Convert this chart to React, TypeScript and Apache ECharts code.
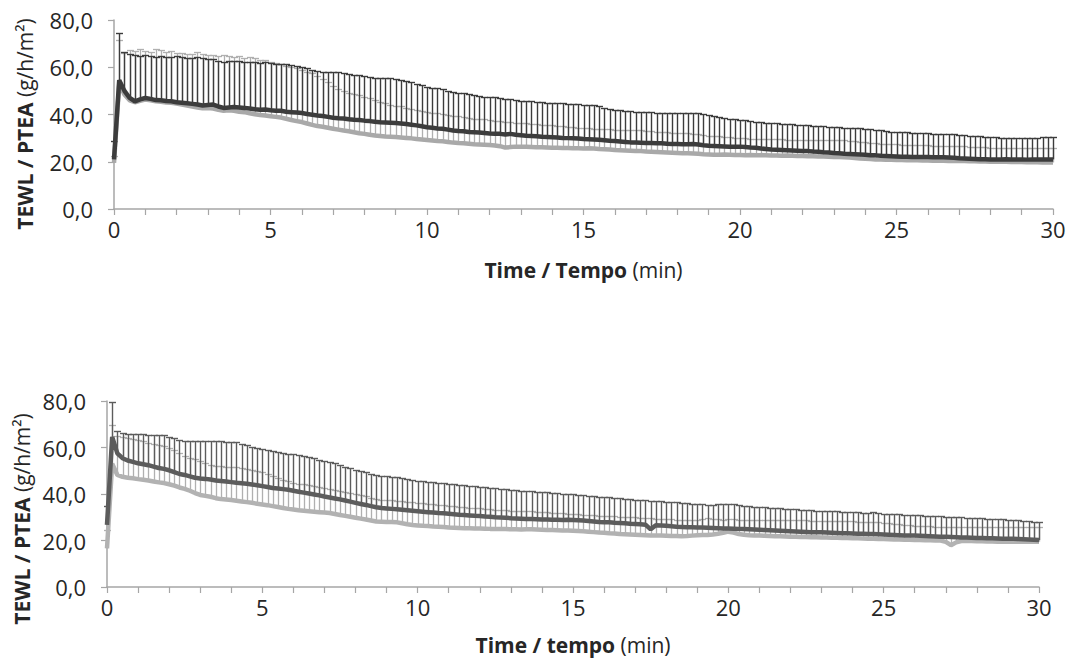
import React, { useEffect, useRef } from "react";
import * as echarts from "echarts";

// sample times: one reading every 10 s from 0 to 30 min
const minutes: number[] = Array.from({ length: 181 }, (_, i) => i / 6);

const xTicks = [0, 5, 10, 15, 20, 25, 30];
const yTicks = [0, 20, 40, 60, 80];

// ---------- Top panel ----------
const topDark = [
  21.0, 54.5, 50.0, 47.0, 45.6, 46.4, 47.0, 46.6, 46.1, 46.0, 45.7, 45.6,
  45.2, 45.0, 44.8, 44.5, 44.2, 43.8, 44.0, 44.2, 43.4, 42.8, 43.0, 43.2,
  43.0, 42.8, 42.5, 42.2, 42.0, 42.1, 41.8, 41.6, 41.6, 41.2, 41.0, 40.8,
  40.6, 40.2, 39.9, 39.6, 39.4, 39.0, 38.6, 38.4, 38.3, 38.0, 37.8, 37.7,
  37.4, 37.2, 36.9, 36.7, 36.6, 36.5, 36.4, 36.2, 36.0, 35.7, 35.4, 35.0,
  34.6, 34.4, 34.1, 34.0, 33.6, 33.2, 33.0, 32.9, 32.6, 32.5, 32.4, 32.2,
  32.0, 31.9, 31.8, 31.5, 31.8, 31.4, 31.2, 31.0, 30.9, 30.8, 30.6, 30.5,
  30.4, 30.3, 30.1, 30.0, 29.9, 29.8, 29.6, 29.5, 29.4, 29.3, 29.1, 28.9,
  28.8, 28.6, 28.4, 28.2, 28.1, 28.0, 27.9, 27.9, 27.8, 27.8, 27.6, 27.5,
  27.5, 27.4, 27.4, 27.5, 27.3, 27.0, 26.8, 26.7, 26.6, 26.5, 26.4, 26.4,
  26.4, 26.2, 26.0, 25.9, 25.6, 25.4, 25.2, 25.1, 25.0, 24.9, 24.8, 24.7,
  24.6, 24.5, 24.3, 24.2, 24.0, 23.9, 23.7, 23.6, 23.4, 23.3, 23.2, 23.1,
  23.0, 22.8, 22.7, 22.5, 22.4, 22.3, 22.2, 22.1, 22.1, 22.0, 22.0, 22.0,
  22.0, 21.9, 21.9, 21.9, 21.8, 21.7, 21.5, 21.4, 21.3, 21.2, 21.1, 21.1,
  21.0, 21.0, 21.0, 21.1, 21.0, 21.0, 21.0, 20.9, 21.0, 21.0, 21.0, 21.0,
  21.0,
];
const topDarkUpper = [
  28.9, 74.3, 66.6, 65.5, 65.0, 64.8, 65.2, 64.6, 64.4, 64.9, 64.5, 64.2,
  64.6, 64.4, 64.0, 63.8, 64.2, 64.0, 63.6, 63.4, 62.6, 62.4, 62.8, 62.6,
  62.5, 62.2, 62.4, 62.3, 62.0, 62.2, 61.8, 61.5, 61.4, 61.2, 61.0, 60.4,
  60.0, 59.6, 59.0, 58.4, 58.1, 58.2, 58.0, 57.8, 57.4, 57.0, 56.8, 56.7,
  56.2, 55.8, 55.5, 55.3, 55.4, 55.3, 55.0, 54.8, 54.2, 53.6, 53.0, 52.4,
  51.8, 51.4, 51.1, 50.6, 50.0, 49.6, 49.3, 49.0, 48.6, 48.2, 47.8, 47.6,
  47.5, 47.2, 46.8, 46.6, 46.4, 46.1, 45.8, 45.9, 45.6, 45.4, 45.2, 45.0,
  45.0, 44.8, 44.9, 44.6, 44.4, 44.3, 44.2, 44.0, 44.1, 43.6, 42.8, 42.2,
  42.0, 41.8, 41.6, 41.4, 41.2, 41.0, 41.1, 40.9, 40.8, 40.7, 40.8, 40.6,
  40.6, 40.5, 40.5, 40.6, 40.5, 40.2, 39.8, 39.2, 38.8, 38.6, 38.3, 38.0,
  37.7, 37.6, 37.3, 37.0, 36.8, 36.6, 36.4, 36.3, 36.1, 36.0, 35.8, 35.7,
  35.6, 35.4, 35.3, 35.1, 35.0, 34.8, 34.6, 34.5, 34.4, 34.3, 34.2, 34.1,
  33.9, 33.7, 33.5, 33.3, 33.0, 32.8, 32.6, 32.5, 32.4, 32.3, 32.2, 32.1,
  32.0, 31.9, 31.8, 31.7, 31.6, 31.6, 31.5, 31.3, 31.1, 30.9, 30.8, 30.6,
  30.5, 30.4, 30.2, 30.2, 30.1, 30.2, 30.2, 30.1, 30.2, 30.2, 30.3, 30.3,
  30.3,
];
const topLight = [
  19.5, 53.0, 48.5, 46.0, 45.2, 45.8, 46.3, 46.0, 45.6, 45.4, 45.1, 45.0,
  44.6, 44.2, 43.8, 43.4, 43.0, 42.6, 42.7, 42.5, 42.0, 41.6, 41.8, 41.6,
  41.2, 41.0, 40.5, 40.1, 39.8, 39.6, 39.3, 39.0, 38.7, 38.2, 37.7, 37.2,
  36.8, 36.2, 35.6, 35.1, 34.8, 34.4, 34.0, 33.6, 33.2, 32.9, 32.5, 32.1,
  31.8, 31.4, 31.1, 30.9, 30.7, 30.6, 30.5, 30.3, 30.1, 29.9, 29.6, 29.4,
  29.2, 29.0, 28.8, 28.7, 28.4, 28.1, 27.9, 27.8, 27.6, 27.4, 27.3, 27.2,
  27.1, 26.9, 26.6, 26.0, 26.2, 26.4, 26.4, 26.3, 26.2, 26.1, 26.1, 26.0,
  25.9, 25.9, 25.8, 25.8, 25.7, 25.7, 25.6, 25.7, 25.6, 25.4, 25.3, 25.2,
  25.0, 24.9, 24.8, 24.7, 24.6, 24.5, 24.3, 24.2, 24.1, 24.0, 23.9, 23.8,
  23.7, 23.6, 23.6, 23.5, 23.4, 23.2, 23.1, 23.0, 23.0, 23.1, 23.0, 22.9,
  22.9, 22.8, 22.9, 22.8, 22.7, 22.7, 22.6, 22.6, 22.5, 22.6, 22.5, 22.4,
  22.4, 22.3, 22.3, 22.2, 22.2, 22.1, 22.0, 22.0, 21.9, 21.8, 21.6, 21.4,
  21.3, 21.2, 21.0, 20.9, 20.8, 20.8, 20.7, 20.7, 20.6, 20.6, 20.6, 20.5,
  20.5, 20.4, 20.4, 20.4, 20.3, 20.3, 20.4, 20.3, 20.2, 20.2, 20.1, 20.1,
  20.0, 20.0, 20.1, 20.0, 19.9, 19.9, 19.9, 19.8, 19.8, 19.8, 19.7, 19.7,
  19.7,
];
const topLightUpper = [
  22.5, 71.5, 66.0, 67.2, 66.8, 67.6, 67.0, 66.4, 67.8, 67.2, 66.6, 66.8,
  66.2, 66.0, 65.6, 65.8, 66.4, 65.6, 65.2, 65.0, 64.8, 65.2, 64.6, 64.4,
  64.6, 64.0, 64.2, 63.8, 63.2, 63.0, 62.4, 62.0, 61.2, 60.6, 60.0, 59.6,
  59.0, 58.2, 57.4, 56.4, 55.0, 53.6, 52.2, 50.6, 50.0, 49.2, 48.8, 48.4,
  47.6, 46.8, 46.0, 45.4, 44.8, 44.0, 43.7, 43.4, 42.8, 42.4, 41.8, 41.3,
  41.0, 40.8, 40.5, 40.1, 39.8, 39.5, 39.2, 38.9, 38.6, 38.3, 38.0, 37.9,
  37.7, 37.4, 37.2, 36.9, 36.7, 36.5, 36.4, 36.2, 36.0, 35.8, 35.7, 35.6,
  35.4, 35.2, 35.0, 34.8, 34.6, 34.4, 34.2, 34.1, 34.0, 33.9, 33.8, 33.7,
  33.6, 33.5, 33.5, 33.4, 33.4, 33.3, 33.1, 33.0, 32.8, 32.6, 32.4, 32.2,
  32.1, 32.0, 32.0, 31.8, 31.6, 31.3, 31.1, 30.9, 30.7, 30.5, 30.3, 30.1,
  30.0, 29.9, 29.8, 29.7, 29.7, 29.6, 29.6, 29.5, 29.5, 29.4, 29.4, 29.4,
  29.3, 29.3, 29.3, 29.2, 29.2, 29.2, 29.2, 29.1, 29.0, 28.8, 28.6, 28.4,
  28.2, 28.0, 27.9, 27.7, 27.6, 27.5, 27.4, 27.3, 27.2, 27.1, 27.0, 26.9,
  26.9, 26.8, 26.8, 26.7, 26.7, 26.6, 26.6, 26.5, 26.4, 26.3, 26.2, 26.1,
  26.0, 26.0, 25.9, 25.9, 25.8, 25.8, 25.8, 25.7, 25.7, 25.7, 25.7, 25.7,
  25.7,
];

// ---------- Bottom panel ----------
const botDark = [
  26.7, 64.6, 57.5, 55.4, 54.4, 53.8, 53.2, 52.8, 52.4, 51.8, 51.2, 50.8,
  50.2, 49.4, 48.6, 48.2, 47.6, 47.0, 46.7, 46.5, 46.2, 45.8, 45.6, 45.4,
  45.1, 44.8, 44.6, 44.4, 44.1, 43.8, 43.4, 43.0, 42.6, 42.4, 42.1, 41.8,
  41.4, 41.0, 40.6, 40.2, 39.8, 39.4, 38.9, 38.5, 38.1, 37.7, 37.2, 36.7,
  36.2, 35.7, 35.3, 34.8, 34.3, 34.0, 33.8, 33.6, 33.4, 33.2, 33.0, 32.8,
  32.6, 32.4, 32.2, 32.0, 31.8, 31.7, 31.5, 31.3, 31.1, 31.0, 30.8, 30.6,
  30.5, 30.3, 30.2, 30.0, 29.9, 29.8, 29.6, 29.5, 29.4, 29.3, 29.2, 29.1,
  29.0, 29.0, 28.9, 28.9, 28.8, 28.9, 28.8, 28.7, 28.6, 28.4, 28.2, 28.0,
  27.9, 27.8, 27.6, 27.5, 27.4, 27.2, 27.1, 27.0, 26.8, 24.8, 26.6, 26.5,
  26.3, 26.1, 25.9, 25.8, 25.7, 25.7, 25.6, 25.6, 25.5, 25.4, 25.3, 25.2,
  25.2, 25.1, 25.0, 24.9, 24.8, 24.7, 24.6, 24.5, 24.4, 24.3, 24.2, 24.1,
  24.0, 23.9, 23.8, 23.7, 23.6, 23.6, 23.5, 23.4, 23.3, 23.2, 23.1, 23.1,
  23.0, 22.9, 22.9, 22.8, 22.8, 22.7, 22.6, 22.5, 22.4, 22.3, 22.2, 22.2,
  22.1, 22.0, 21.9, 21.8, 21.7, 21.6, 21.6, 21.5, 21.4, 21.3, 21.3, 21.2,
  21.1, 21.1, 21.0, 21.0, 20.9, 20.8, 20.8, 20.7, 20.6, 20.5, 20.4, 20.3,
  20.2,
];
const botDarkUpper = [
  34.8, 79.7, 67.0, 66.2, 66.0, 65.8, 65.6, 65.6, 65.4, 65.4, 65.5, 65.2,
  64.6, 64.0, 63.4, 63.0, 62.8, 62.8, 62.6, 62.8, 63.0, 62.7, 62.6, 62.5,
  62.4, 62.2, 61.6, 61.0, 60.4, 59.8, 59.3, 58.9, 58.6, 58.2, 57.8, 57.4,
  57.0, 56.6, 56.2, 55.8, 55.3, 54.8, 54.2, 53.8, 53.4, 52.6, 51.8, 51.0,
  50.4, 49.8, 49.3, 48.6, 48.0, 47.8, 47.6, 47.4, 47.2, 46.9, 46.5, 46.1,
  45.8, 45.6, 45.3, 45.0, 44.8, 44.6, 44.4, 44.2, 44.0, 43.7, 43.5, 43.3,
  43.1, 42.9, 42.7, 42.5, 42.3, 42.1, 41.9, 41.7, 41.5, 41.3, 41.2, 41.0,
  40.9, 40.7, 40.6, 40.4, 40.2, 40.1, 39.9, 39.7, 39.5, 39.3, 39.1, 38.9,
  38.7, 38.5, 38.3, 38.1, 37.9, 37.7, 37.6, 37.4, 37.3, 37.1, 37.0, 36.9,
  36.7, 36.6, 36.4, 36.3, 36.1, 35.9, 35.7, 35.5, 35.4, 35.3, 35.5, 35.8,
  35.8, 35.6, 35.2, 35.0, 34.8, 34.6, 34.4, 34.2, 34.0, 33.9, 33.8, 33.6,
  33.5, 33.4, 33.3, 33.2, 33.0, 32.9, 32.8, 32.7, 32.6, 32.5, 32.4, 32.3,
  32.2, 32.1, 32.0, 31.9, 32.3, 31.7, 31.6, 31.5, 31.4, 31.2, 31.1, 31.0,
  30.9, 30.8, 30.7, 30.6, 30.5, 30.4, 30.2, 30.1, 30.0, 29.9, 29.8, 29.7,
  29.6, 29.5, 29.4, 29.3, 29.2, 29.1, 29.0, 28.8, 28.7, 28.5, 28.3, 28.1,
  28.1,
];
const botLight = [
  16.6, 53.0, 48.2, 47.4, 47.0, 46.8, 46.4, 46.1, 45.8, 45.4, 45.0, 44.7,
  44.2, 43.6, 42.8, 42.2, 41.4, 40.4, 39.6, 39.2, 38.8, 38.2, 37.8, 37.6,
  37.4, 37.1, 36.8, 36.5, 36.2, 35.8, 35.5, 35.2, 34.8, 34.4, 34.0, 33.6,
  33.3, 33.0, 32.8, 32.6, 32.4, 32.2, 32.0, 31.8, 31.4, 31.0, 30.6, 30.2,
  29.8, 29.4, 29.0, 28.6, 28.2, 28.1, 28.0, 28.0, 27.8, 27.4, 27.0, 26.7,
  26.5, 26.3, 26.2, 26.0, 25.9, 25.8, 25.6, 25.5, 25.4, 25.3, 25.3, 25.2,
  25.2, 25.1, 25.0, 25.0, 24.9, 24.9, 24.8, 24.8, 24.7, 24.8, 24.8, 24.7,
  24.6, 24.5, 24.5, 24.4, 24.3, 24.3, 24.2, 24.1, 24.0, 23.8, 23.6, 23.4,
  23.3, 23.1, 23.0, 22.8, 22.7, 22.6, 22.5, 22.4, 22.3, 22.2, 22.2, 22.1,
  22.0, 21.9, 21.9, 21.8, 21.9, 22.1, 22.3, 22.4, 22.4, 22.6, 22.9, 23.3,
  23.8, 23.4, 22.8, 22.5, 22.3, 22.2, 22.1, 22.0, 21.9, 21.8, 21.8, 21.7,
  21.6, 21.6, 21.5, 21.5, 21.4, 21.4, 21.3, 21.3, 21.2, 21.2, 21.1, 21.1,
  21.0, 21.0, 20.9, 20.8, 20.7, 20.6, 20.6, 20.5, 20.4, 20.4, 20.3, 20.3,
  20.2, 20.2, 20.1, 20.1, 20.0, 20.0, 19.4, 18.0, 19.2, 19.8, 19.9, 19.8,
  19.7, 19.7, 19.6, 19.6, 19.5, 19.5, 19.5, 19.5, 19.5, 19.5, 19.5, 19.5,
  19.5,
];
const botLightUpper = [
  24.5, 69.7, 65.0, 64.6, 64.2, 63.8, 63.4, 62.8, 62.0, 61.4, 61.0, 60.6,
  60.0, 59.0, 57.8, 56.4, 55.4, 55.0, 54.2, 53.2, 52.4, 52.0, 51.9, 51.8,
  51.7, 51.4, 51.0, 50.6, 50.2, 49.8, 49.4, 48.6, 47.8, 47.0, 46.2, 45.4,
  44.8, 44.4, 44.2, 43.8, 43.4, 43.0, 42.6, 42.2, 41.8, 41.3, 40.8, 40.3,
  40.0, 39.7, 39.0, 38.4, 37.8, 37.5, 37.4, 37.4, 37.2, 37.0, 36.7, 36.4,
  36.2, 36.0, 35.8, 35.6, 35.3, 35.1, 34.9, 34.7, 34.5, 34.3, 34.1, 34.0,
  33.8, 33.6, 33.5, 33.3, 33.2, 33.1, 32.9, 32.8, 32.7, 32.6, 32.5, 32.4,
  32.3, 32.1, 32.0, 31.8, 31.7, 31.5, 31.3, 31.2, 31.0, 30.9, 30.8, 30.7,
  30.6, 30.5, 30.4, 30.3, 30.1, 30.0, 29.9, 29.8, 29.7, 29.6, 29.4, 29.3,
  29.2, 29.1, 29.0, 28.9, 28.8, 28.8, 28.9, 29.2, 29.5, 29.3, 29.1, 29.0,
  29.4, 29.2, 29.0, 28.9, 28.9, 28.8, 28.9, 28.8, 28.8, 28.8, 28.9, 28.8,
  28.8, 28.8, 28.7, 28.7, 28.6, 28.5, 28.5, 28.4, 28.4, 28.3, 28.3, 28.2,
  28.2, 28.1, 28.1, 28.0, 27.9, 27.8, 27.6, 27.4, 27.2, 27.0, 26.8, 26.6,
  26.4, 26.3, 26.2, 26.1, 26.0, 26.0, 25.9, 25.9, 25.9, 25.9, 25.9, 25.9,
  25.9, 25.9, 25.9, 25.9, 25.9, 25.9, 25.8, 25.8, 25.8, 25.8, 25.7, 25.7,
  25.7,
];

const FONT = "'Open Sans', 'Noto Sans', sans-serif";
const AXIS_GRAY = "#a6a6a6";
const TEXT = "#262626";

function errRender(color: string, width: number) {
  return (params: any, api: any) => {
    const x = api.value(0);
    const lo = api.coord([x, api.value(1)]);
    const hi = api.coord([x, api.value(2)]);
    const px = Math.round(lo[0]) + 0.5;
    const py = Math.round(hi[1]) + 0.5;
    return {
      type: "group",
      children: [
        { type: "line", shape: { x1: px, y1: lo[1], x2: px, y2: py }, style: { stroke: color, lineWidth: width } },
        { type: "line", shape: { x1: px - 3.5, y1: py, x2: px + 3.5, y2: py }, style: { stroke: color, lineWidth: width } },
      ],
    };
  };
}

function errData(mean: number[], upper: number[]) {
  return minutes.map((t, i) => [t, mean[i], upper[i]]);
}
function lineData(mean: number[]) {
  return minutes.map((t, i) => [t, mean[i]]);
}

function xAxisCfg(gridIndex: number, title: string, gap: number) {
  return {
    type: "value",
    gridIndex,
    min: 0,
    max: 30,
    interval: 1,
    axisLine: { show: true, onZero: false, lineStyle: { color: AXIS_GRAY, width: 1.5 } },
    axisTick: { show: true, length: 6, lineStyle: { color: AXIS_GRAY, width: 1.2 } },
    splitLine: { show: false },
    axisLabel: {
      margin: 9,
      color: TEXT,
      fontFamily: FONT,
      fontSize: 22,
      formatter: (v: number) => (xTicks.indexOf(v) >= 0 ? String(v) : ""),
      showMaxLabel: true,
    },
    name: `{b|${title}}{n| (min)}`,
    nameLocation: "middle",
    nameGap: gap,
    nameTextStyle: {
      rich: {
        b: { fontFamily: FONT, fontSize: 21, fontWeight: "bold", color: TEXT },
        n: { fontFamily: FONT, fontSize: 21, color: TEXT },
      },
    },
  };
}

function yAxisCfg(gridIndex: number) {
  return {
    type: "value",
    gridIndex,
    min: yTicks[0],
    max: yTicks[yTicks.length - 1],
    interval: 20,
    axisLine: { show: true, lineStyle: { color: AXIS_GRAY, width: 1.5 } },
    axisTick: { show: true, length: 6, lineStyle: { color: AXIS_GRAY, width: 1.2 } },
    splitLine: { show: false },
    axisLabel: {
      margin: 21,
      color: TEXT,
      fontFamily: FONT,
      fontSize: 22,
      formatter: (v: number) => v.toFixed(1).replace(".", ","),
    },
  };
}

function panelSeries(idx: number, dark: number[], darkUp: number[], light: number[], lightUp: number[], darkColor: string, lightColor: string) {
  return [
    {
      type: "custom",
      xAxisIndex: idx,
      yAxisIndex: idx,
      renderItem: errRender("#b0b0b0", 1.3),
      data: errData(light, lightUp),
      encode: { x: 0, y: [1, 2] },
      z: 1,
      silent: true,
    },
    {
      type: "custom",
      xAxisIndex: idx,
      yAxisIndex: idx,
      renderItem: errRender(darkColor, 1.4),
      data: errData(dark, darkUp),
      encode: { x: 0, y: [1, 2] },
      z: 2,
      silent: true,
    },
    {
      type: "line",
      xAxisIndex: idx,
      yAxisIndex: idx,
      data: lineData(light),
      showSymbol: false,
      lineStyle: { color: lightColor, width: 4.5 },
      z: 3,
      silent: true,
    },
    {
      type: "line",
      xAxisIndex: idx,
      yAxisIndex: idx,
      data: lineData(dark),
      showSymbol: false,
      lineStyle: { color: darkColor, width: 4.5 },
      z: 4,
      silent: true,
    },
  ];
}

function yTitle(x: number, y: number) {
  return {
    type: "text",
    x,
    y,
    rotation: Math.PI / 2,
    style: {
      text: "{b|TEWL / PTEA}{n| (g/h/m²)}",
      align: "center",
      verticalAlign: "middle",
      rich: {
        b: { fontFamily: FONT, fontSize: 21, fontWeight: "bold", fill: TEXT },
        n: { fontFamily: FONT, fontSize: 21, fill: TEXT },
      },
    },
  };
}

export default function App() {
  const ref = useRef<HTMLDivElement>(null);
  useEffect(() => {
    if (!ref.current) return;
    const chart = echarts.init(ref.current, undefined, { renderer: "svg" });
    chart.setOption({
      animation: false,
      backgroundColor: "#ffffff",
      grid: [
        { left: 114, top: 20, width: 939, height: 189 },
        { left: 107, top: 401, width: 932, height: 186 },
      ],
      xAxis: [xAxisCfg(0, "Time / Tempo", 50), xAxisCfg(1, "Time / tempo", 47)],
      yAxis: [yAxisCfg(0), yAxisCfg(1)],
      graphic: [yTitle(25, 124), yTitle(22, 519)],
      series: [
        ...panelSeries(0, topDark, topDarkUpper, topLight, topLightUpper, "#3c3c3c", "#a9a9a9"),
        ...panelSeries(1, botDark, botDarkUpper, botLight, botLightUpper, "#5c5c5c", "#b2b2b2"),
      ],
    });
    return () => chart.dispose();
  }, []);
  return (
    <div
      ref={ref}
      style={{ position: "absolute", left: 0, top: 0, width: 1070, height: 660, background: "#fff" }}
    />
  );
}
